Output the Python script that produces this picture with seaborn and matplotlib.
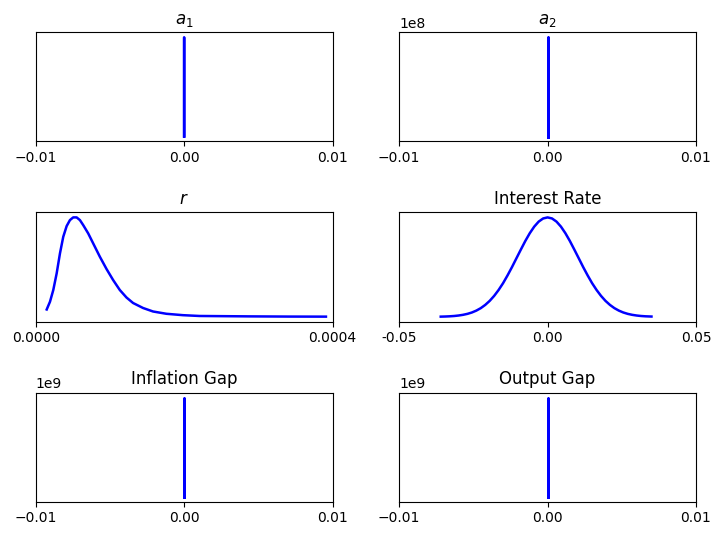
import matplotlib
matplotlib.use("Agg")
import matplotlib.pyplot as plt
from matplotlib.ticker import ScalarFormatter
import seaborn as sns

# ---- data ----
titles = ["$a_1$", "$a_2$", "$r$", "Interest Rate", "Inflation Gap", "Output Gap"]

a1_x = [-3e-7, -2e-7, -1e-7, 0.0, 1e-7, 2e-7, 3e-7]
a1_y = [4.4e3, 5.4e4, 2.42e5, 3.99e5, 2.42e5, 5.4e4, 4.4e3]

a2_x = [-6e-9, -4e-9, -2e-9, 0.0, 2e-9, 4e-9, 6e-9]
a2_y = [2.2e6, 2.7e7, 1.21e8, 1.99e8, 1.21e8, 2.7e7, 2.2e6]

r_x = [1.478e-5, 1.922e-5, 2.365e-5, 2.822e-5, 3.266e-5, 3.709e-5, 4.166e-5,
       4.610e-5, 5.053e-5, 5.510e-5, 5.954e-5, 6.397e-5, 7.069e-5, 7.741e-5,
       8.642e-5, 9.542e-5, 1.0429e-4, 1.1330e-4, 1.2230e-4, 1.3117e-4,
       1.4461e-4, 1.5805e-4, 1.7606e-4, 1.9837e-4, 2.2082e-4, 2.8802e-4,
       3.4178e-4, 3.9110e-4]
r_y = [982, 2045, 3641, 5918, 8645, 10909, 12368, 13186, 13554, 13554, 13186,
       12504, 11373, 10009, 8182, 6504, 5004, 3641, 2618, 1868, 1186, 709, 395,
       205, 95, 41, 14, 5]

ir_x = [-0.036, -0.0345, -0.033, -0.0315, -0.030, -0.0285, -0.027, -0.0255,
        -0.024, -0.0225, -0.021, -0.0195, -0.018, -0.0165, -0.015, -0.0135,
        -0.012, -0.0105, -0.009, -0.0075, -0.006, -0.0045, -0.003, -0.0015,
        0.0, 0.0015, 0.003, 0.0045, 0.006, 0.0075, 0.009, 0.0105, 0.012,
        0.0135, 0.015, 0.0165, 0.018, 0.0195, 0.021, 0.0225, 0.024, 0.0255,
        0.027, 0.0285, 0.030, 0.0315, 0.033, 0.035]
ir_y = [0.08, 0.13, 0.21, 0.33, 0.52, 0.79, 1.17, 1.71, 2.45, 3.42, 4.69, 6.27,
        8.22, 10.54, 13.2, 16.24, 19.5, 22.96, 26.4, 29.76, 32.8, 35.38, 37.35,
        38.58, 39.0, 38.58, 37.35, 35.38, 32.8, 29.76, 26.4, 22.96, 19.5,
        16.24, 13.2, 10.54, 8.22, 6.27, 4.69, 3.42, 2.45, 1.71, 1.17, 0.79,
        0.52, 0.33, 0.21, 0.12]

ig_x = [-6e-10, -4e-10, -2e-10, 0.0, 2e-10, 4e-10, 6e-10]
ig_y = [2.2e7, 2.7e8, 1.21e9, 1.99e9, 1.21e9, 2.7e8, 2.2e7]

og_x = [-6e-10, -4e-10, -2e-10, 0.0, 2e-10, 4e-10, 6e-10]
og_y = [2.2e7, 2.7e8, 1.21e9, 1.99e9, 1.21e9, 2.7e8, 2.2e7]

spike_ticks = [-0.01, 0.0, 0.01]
r_ticks = [0.0, 0.0004]
r_ticklabels = ["0.0000", "0.0004"]
ir_ticks = [-0.05, 0.0, 0.05]
ir_ticklabels = ["-0.05", "0.00", "0.05"]

series = [(a1_x, a1_y), (a2_x, a2_y), (r_x, r_y), (ir_x, ir_y), (ig_x, ig_y), (og_x, og_y)]


class OffsetOnlyFormatter(ScalarFormatter):
    """Hide the y tick labels but keep the scientific offset text."""
    def __call__(self, x, pos=None):
        return ""


fig, axes = plt.subplots(3, 2, figsize=(7.19, 5.35), dpi=100)
fig.subplots_adjust(left=0.0497, right=0.968, top=0.9396, bottom=0.0622,
                    wspace=0.2245, hspace=0.65)

for i, (ax, (xs, ys), title) in enumerate(zip(axes.flat, series, titles)):
    sns.lineplot(x=xs, y=ys, ax=ax, color="blue", linewidth=1.8, sort=False)
    ax.set_title(title, fontsize=12)
    ax.set_xlabel("")
    ax.set_ylabel("")
    ax.yaxis.set_major_formatter(OffsetOnlyFormatter())
    ax.tick_params(axis="y", left=False)
    ax.tick_params(axis="x", labelsize=10)
    if i in (0, 1, 4, 5):
        ax.set_xlim(-0.01, 0.01)
        ax.set_xticks(spike_ticks)
    elif i == 2:
        ax.set_xlim(0.0, 0.0004)
        ax.set_xticks(r_ticks)
        ax.set_xticklabels(r_ticklabels)
    else:
        ax.set_xlim(-0.05, 0.05)
        ax.set_xticks(ir_ticks)
        ax.set_xticklabels(ir_ticklabels)

fig.savefig("out.png", dpi=100)
